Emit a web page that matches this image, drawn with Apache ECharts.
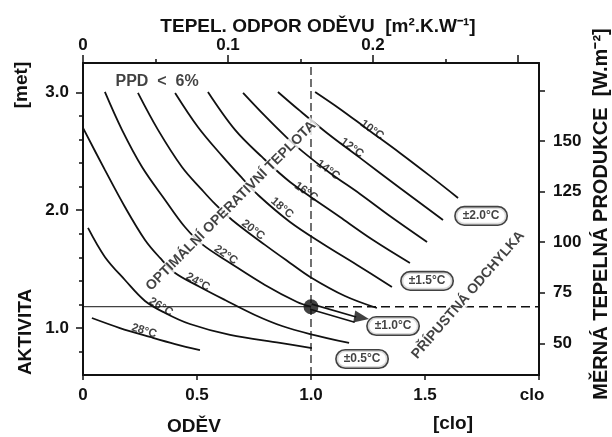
<!DOCTYPE html>
<html>
<head>
<meta charset="utf-8">
<script src="https://cdn.jsdelivr.net/npm/echarts@6/dist/echarts.min.js"></script>
<style>html,body{margin:0;padding:0;background:#fff}#c{width:612px;height:437px}</style>
</head>
<body>
<div id="c"></div>
<script>
// ---------- data ----------
const cloTicks = [0, 0.5, 1.0, 1.5, 2.0];
const cloTickLabels = ['0', '0.5', '1.0', '1.5', 'clo'];
const resistMajor = [0, 0.1, 0.2, 0.3];
const resistMinor = [0.05, 0.15, 0.25];
const resistLabeled = [0, 0.1, 0.2];
const metMajor = [1.0, 2.0, 3.0];
const metMinor = [0.8, 1.2, 1.4, 1.6, 1.8, 2.2, 2.4, 2.6, 2.8];
const heatTicks = [50, 75, 100, 125, 150, 175];
const heatLabeled = [50, 75, 100, 125, 150];

const cloRange = [0, 2.0];
const metRange = [0.6, 3.25];
const resistRange = [0, 0.3145];
const heatRange = [34.4, 188.5];

const tempLabels = ['10°C', '12°C', '14°C', '16°C', '18°C', '20°C', '22°C', '24°C', '26°C', '28°C'];

const curve10 = [[1.018,3.004],[1.127,2.860],[1.246,2.690],[1.390,2.486],[1.522,2.291],[1.645,2.104]];
const curve12 = [[0.855,3.004],[0.952,2.843],[1.070,2.656],[1.215,2.444],[1.390,2.189],[1.579,1.917]];
const curve14 = [[0.702,2.996],[0.798,2.800],[0.895,2.614],[0.965,2.495],[1.083,2.316],[1.215,2.138],[1.346,1.951],[1.509,1.730]];
const curve16 = [[0.548,3.004],[0.667,2.682],[0.785,2.452],[0.908,2.240],[1.127,1.942],[1.272,1.747],[1.434,1.552]];
const curve18 = [[0.404,2.996],[0.504,2.707],[0.610,2.461],[0.697,2.274],[0.768,2.129],[0.908,1.900],[1.053,1.713],[1.202,1.535],[1.355,1.348]];
const curve20 = [[0.241,2.996],[0.329,2.682],[0.434,2.367],[0.522,2.172],[0.579,2.053],[0.654,1.917],[0.798,1.705],[0.908,1.552],[0.996,1.433],[1.149,1.271],[1.289,1.169]];
const curve22 = [[0.096,3.004],[0.171,2.682],[0.259,2.367],[0.360,2.087],[0.447,1.857],[0.526,1.705],[0.645,1.552],[0.798,1.365],[0.939,1.220],[1.0,1.18]];
const curve24 = [[0,2.699],[0.096,2.342],[0.184,2.027],[0.272,1.747],[0.338,1.594],[0.404,1.467],[0.513,1.348],[0.623,1.237],[0.754,1.110],[0.873,1.016],[0.996,0.948],[1.167,0.872]];
const curve26 = [[0.022,1.849],[0.096,1.603],[0.184,1.407],[0.272,1.229],[0.360,1.127],[0.469,1.033],[0.645,0.940],[0.864,0.872],[1.004,0.829]];
const curve28 = [[0.039,1.084],[0.162,0.999],[0.294,0.923],[0.404,0.863],[0.513,0.812]];

const tempLabelAt = [[1.268,2.682],[1.180,2.529],[1.075,2.342],[0.978,2.155],[0.873,2.019],[0.746,1.832],[0.627,1.620],[0.504,1.390],[0.342,1.178],[0.268,0.974]];

const tolLabels = ['±2.0°C', '±1.5°C', '±1.0°C', '±0.5°C'];
const tolAt = [[1.746,1.951],[1.509,1.399],[1.360,1.016],[1.224,0.736]];

const noteTexts = ['PPD  <  6%'];
const noteAt = [[0.325,3.089]];

const diagTexts = ['OPTIMÁLNÍ OPERATIVNÍ TEPLOTA', 'PŘÍPUSTNÁ ODCHYLKA'];
const diagAt = [[0.649,2.036],[1.689,1.280]];

const refPoint = [1.0, 1.18];
const arrowEnd = [1.195, 1.07];
const arrowHead = [1.222, 1.086];

// ---------- styles ----------
const FONT = "'Liberation Sans', Arial, Helvetica, sans-serif";
const INK = '#111111';
const tempLabelRotate = [-36, -36, -36, -35, -40, -37, -35, -29, -31, -17];
const diagRotate = [45, 49];

const curves = [curve10, curve12, curve14, curve16, curve18, curve20, curve22, curve24, curve26, curve28];

function near(a, b) { return Math.abs(a - b) < 1e-6; }
function lookup(list, labels, v) {
  for (let i = 0; i < list.length; i++) if (near(list[i], v)) return labels[i];
  return '';
}
const tickFont = { color: INK, fontSize: 17, fontWeight: 'bold', fontFamily: FONT };
const lineAxis = { show: true, onZero: false, lineStyle: { color: INK, width: 2 } };
const noLine = { show: false, onZero: false };

const series = [];
curves.forEach((c) => {
  series.push({
    type: 'line', data: c, smooth: 0.35, symbol: 'none', silent: true, z: 3,
    lineStyle: { color: INK, width: 1.8 }
  });
});
// reference lines
series.push({
  type: 'line', data: [[refPoint[0], metRange[0]], [refPoint[0], metRange[1]]], symbol: 'none', silent: true, z: 2,
  lineStyle: { color: INK, width: 1.2, type: [8, 4] }
});
series.push({
  type: 'line', data: [[cloRange[0], refPoint[1]], [refPoint[0], refPoint[1]]], symbol: 'none', silent: true, z: 2,
  lineStyle: { color: INK, width: 1 }
});
series.push({
  type: 'line', data: [[refPoint[0], refPoint[1]], [cloRange[1], refPoint[1]]], symbol: 'none', silent: true, z: 2,
  lineStyle: { color: INK, width: 1.5, type: [9, 5] }
});
// arrow shaft (double line)
series.push({
  type: 'line', data: [refPoint, arrowEnd], symbol: 'none', silent: true, z: 6,
  lineStyle: { color: INK, width: 7, cap: 'butt' }
});
series.push({
  type: 'line', data: [refPoint, arrowEnd], symbol: 'none', silent: true, z: 7,
  lineStyle: { color: '#fff', width: 3.8, cap: 'butt' }
});
series.push({
  type: 'scatter', data: [arrowHead], symbol: 'triangle', symbolSize: [12, 15], symbolRotate: -100,
  itemStyle: { color: INK }, silent: true, z: 8
});
series.push({
  type: 'scatter', data: [refPoint], symbol: 'circle', symbolSize: 15,
  itemStyle: { color: INK }, silent: true, z: 9
});
// temperature labels
series.push({
  type: 'scatter', silent: true, z: 10, symbolSize: 1, itemStyle: { color: 'rgba(0,0,0,0)' },
  data: tempLabels.map((t, i) => ({ name: t, value: tempLabelAt[i], label: { rotate: tempLabelRotate[i] } })),
  label: { show: true, position: 'inside', formatter: '{b}', color: INK, fontSize: 11.5, fontWeight: 'bold', fontFamily: FONT }
});
// tolerance boxes
series.push({
  type: 'scatter', silent: true, z: 10, symbolSize: 1, itemStyle: { color: 'rgba(0,0,0,0)' },
  data: tolLabels.map((t, i) => ({ name: t, value: tolAt[i] })),
  label: {
    show: true, position: 'inside', formatter: '{b}', color: INK, fontSize: 12, fontWeight: 'bold', fontFamily: FONT,
    backgroundColor: '#fff', borderColor: INK, borderWidth: 1.6, borderRadius: 9, padding: [3, 7, 2, 7]
  }
});
// notes
series.push({
  type: 'scatter', silent: true, z: 10, symbolSize: 1, itemStyle: { color: 'rgba(0,0,0,0)' },
  data: noteTexts.map((t, i) => ({ name: t, value: noteAt[i] })),
  label: { show: true, position: 'inside', formatter: '{b}', color: INK, fontSize: 16, fontWeight: 'bold', fontFamily: FONT }
});
// diagonal captions
series.push({
  type: 'scatter', silent: true, z: 11, symbolSize: 1, itemStyle: { color: 'rgba(0,0,0,0)' },
  data: diagTexts.map((t, i) => ({ name: t, value: diagAt[i], label: { rotate: diagRotate[i] } })),
  label: {
    show: true, position: 'inside', formatter: '{b}', color: INK, fontSize: 14, fontWeight: 'bold', fontFamily: FONT,
    backgroundColor: '#fff', padding: [0, 2]
  }
});

const titleStyle = { fill: INK, fontSize: 19, fontWeight: 'bold', fontFamily: FONT,
  align: 'center', verticalAlign: 'middle', textAlign: 'center', textVerticalAlign: 'middle' };

const chart = echarts.init(document.getElementById('c'), null, { renderer: 'canvas' });
chart.setOption({
  animation: false,
  backgroundColor: '#fff',
  grid: { left: 83, right: 73, top: 63, bottom: 62 },
  xAxis: [
    {
      type: 'value', position: 'bottom', min: cloRange[0], max: cloRange[1],
      axisLine: lineAxis, splitLine: { show: false },
      axisTick: { show: true, customValues: cloTicks, length: 5, lineStyle: { color: INK, width: 1.5 } },
      axisLabel: Object.assign({ customValues: cloTicks, margin: 12,
        formatter: v => { const s = lookup(cloTicks, cloTickLabels, v); return s === 'clo' ? '{u|clo}' : s; },
        rich: { u: { fontSize: 17, fontWeight: 'bold', fontFamily: FONT, color: INK, padding: [0, 14, 0, 0] } } }, tickFont)
    },
    {
      type: 'value', position: 'top', min: resistRange[0], max: resistRange[1],
      axisLine: lineAxis, splitLine: { show: false },
      axisTick: { show: true, customValues: resistMajor, length: 8, lineStyle: { color: INK, width: 1.5 } },
      axisLabel: Object.assign({ customValues: resistLabeled, margin: 9,
        formatter: v => near(v, 0) ? '0' : String(Math.round(v * 10) / 10) }, tickFont)
    },
    {
      type: 'value', position: 'top', min: resistRange[0], max: resistRange[1],
      axisLine: noLine, splitLine: { show: false },
      axisTick: { show: true, customValues: resistMinor, length: 4, lineStyle: { color: INK, width: 1.5 } },
      axisLabel: { show: false }
    }
  ],
  yAxis: [
    {
      type: 'value', position: 'left', min: metRange[0], max: metRange[1],
      axisLine: lineAxis, splitLine: { show: false },
      axisTick: { show: true, customValues: metMajor, length: 7, lineStyle: { color: INK, width: 1.5 } },
      axisLabel: Object.assign({ customValues: metMajor, margin: 14, formatter: v => v.toFixed(1) }, tickFont)
    },
    {
      type: 'value', position: 'left', min: metRange[0], max: metRange[1],
      axisLine: noLine, splitLine: { show: false },
      axisTick: { show: true, customValues: metMinor, length: 4, lineStyle: { color: INK, width: 1.5 } },
      axisLabel: { show: false }
    },
    {
      type: 'value', position: 'right', min: heatRange[0], max: heatRange[1],
      axisLine: lineAxis, splitLine: { show: false },
      axisTick: { show: true, customValues: heatTicks, length: 6, lineStyle: { color: INK, width: 1.5 } },
      axisLabel: Object.assign({ customValues: heatLabeled, margin: 14, formatter: v => String(Math.round(v)) }, tickFont)
    }
  ],
  graphic: [
    { type: 'text', x: 318, y: 27, silent: true,
      style: Object.assign({ text: 'TEPEL. ODPOR ODĚVU  [m².K.W⁻¹]' }, titleStyle) },
    { type: 'text', x: 22, y: 85, rotation: Math.PI / 2, silent: true,
      style: Object.assign({ text: '[met]' }, titleStyle) },
    { type: 'text', x: 26, y: 332, rotation: Math.PI / 2, silent: true,
      style: Object.assign({ text: 'AKTIVITA' }, titleStyle) },
    { type: 'text', x: 194, y: 427, silent: true,
      style: Object.assign({ text: 'ODĚV' }, titleStyle) },
    { type: 'text', x: 453, y: 424, silent: true,
      style: Object.assign({ text: '[clo]' }, titleStyle) },
    { type: 'text', x: 601, y: 214, rotation: Math.PI / 2, silent: true,
      style: Object.assign({ text: 'MĚRNÁ TEPELNÁ PRODUKCE  [W.m⁻²]' }, titleStyle, { fontSize: 20 }) }
  ],
  series: series
});
</script>
</body>
</html>
